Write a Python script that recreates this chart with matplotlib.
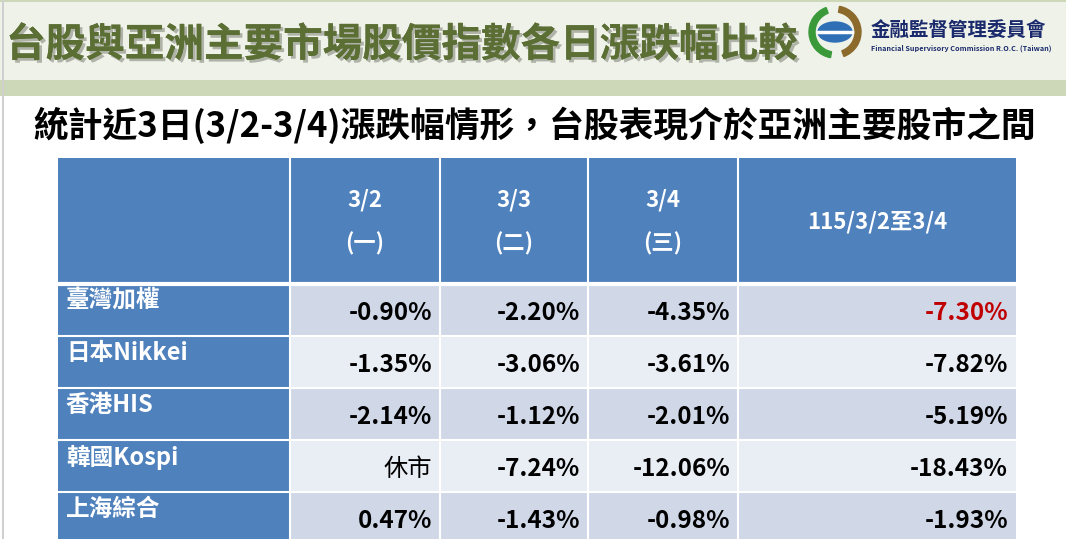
import matplotlib
matplotlib.use("Agg")
import matplotlib.pyplot as plt
from matplotlib.patches import Rectangle, Wedge, Ellipse
import matplotlib.patheffects as pe

plt.rcParams['font.family'] = ['Noto Sans CJK TC', 'DejaVu Sans']

title = "台股與亞洲主要市場股價指數各日漲跌幅比較"
subtitle = "統計近3日(3/2-3/4)漲跌幅情形，台股表現介於亞洲主要股市之間"
col_headers = ["3/2\n(一)", "3/3\n(二)", "3/4\n(三)", "115/3/2至3/4"]
markets = ["臺灣加權", "日本Nikkei", "香港HIS", "韓國Kospi", "上海綜合"]
d_0302 = ["-0.90%", "-1.35%", "-2.14%", "休市", "0.47%"]
d_0303 = ["-2.20%", "-3.06%", "-1.12%", "-7.24%", "-1.43%"]
d_0304 = ["-4.35%", "-3.61%", "-2.01%", "-12.06%", "-0.98%"]
d_total = ["-7.30%", "-7.82%", "-5.19%", "-18.43%", "-1.93%"]

W, H = 1066, 539
fig = plt.figure(figsize=(W/100, H/100), dpi=100)
ax = fig.add_axes([0, 0, 1, 1])
ax.set_xlim(0, W); ax.set_ylim(H, 0); ax.axis('off')

# banner
ax.add_patch(Rectangle((0, 0), W, 80, color='#eff2e9', lw=0))
ax.add_patch(Rectangle((0, 0), W, 2, color='#cdd8b8', lw=0))
ax.add_patch(Rectangle((0, 80), W, 16, color='#cdd8b8', lw=0))
ax.add_patch(Rectangle((2, 0), 2, H, color='#d0d0d0', lw=0))
ax.text(6, 45, title, fontsize=28.5, color='#5b6f35', fontweight='bold', va='center', ha='left',
        path_effects=[pe.withSimplePatchShadow(offset=(2, -2), alpha=0.3), pe.Normal()])
# logo
ax.add_patch(Wedge((835, 32), 26, 100, 250, width=6, color='#3a9a3a', transform=ax.transData))
ax.add_patch(Wedge((835, 32), 26, 280, 70, width=6, color='#8b6a2c'))
ax.add_patch(Ellipse((835, 32), 34, 20, color='#2f6fb5'))
ax.plot([818, 852], [32, 32], color='white', lw=2.5)
ax.text(871, 30, "金融監督管理委員會", fontsize=14, color='#1a2a6c', fontweight='bold', va='center')
ax.text(871, 48, "Financial Supervisory Commission R.O.C. (Taiwan)", fontsize=5.2,
        color='#1a2a6c', fontweight='bold', va='center')

ax.text(535, 125, subtitle, fontsize=25, color='black', fontweight='bold', ha='center', va='center')

# table
xs = [58, 290, 440, 588, 738, 1016]
hy0, hy1 = 158, 284
rh = 52
ax.add_patch(Rectangle((xs[0], hy0), xs[-1]-xs[0], hy1-hy0, color='#4f81bd', lw=0))
for i, h in enumerate(col_headers):
    cx = (xs[i+1] + xs[i+2]) / 2
    lines = h.split("\n")
    if len(lines) == 2:
        ax.text(cx, 200, lines[0], fontsize=16, color='white', fontweight='bold', ha='center', va='center')
        ax.text(cx, 244, lines[1], fontsize=16, color='white', fontweight='bold', ha='center', va='center')
    else:
        ax.text(cx, 222, h, fontsize=16, color='white', fontweight='bold', ha='center', va='center')

cols = [d_0302, d_0303, d_0304, d_total]
for r, m in enumerate(markets):
    y0 = hy1 + r*rh
    ax.add_patch(Rectangle((xs[0], y0), xs[1]-xs[0], rh, color='#4f81bd', lw=0))
    ax.text(xs[0]+8, y0+17, m, fontsize=17, color='white', fontweight='bold', va='center')
    fc = '#d0d8e8' if r % 2 == 0 else '#e9edf4'
    for c in range(4):
        ax.add_patch(Rectangle((xs[c+1], y0), xs[c+2]-xs[c+1], rh, color=fc, lw=0))
        v = cols[c][r]
        color = '#c00000' if (r == 0 and c == 3) else 'black'
        ax.text(xs[c+2]-8, y0+29, v, fontsize=17.5, color=color, fontweight='bold' if v != '休市' else 'normal',
                ha='right', va='center')
# grid lines
for x in xs[1:-1]:
    ax.plot([x, x], [hy0, H], color='white', lw=1.5)
for r in range(6):
    y = hy1 + r*rh
    ax.plot([xs[0], xs[-1]], [y, y], color='white', lw=3 if r == 0 else 1.5)

fig.savefig("out.png", dpi=100)
